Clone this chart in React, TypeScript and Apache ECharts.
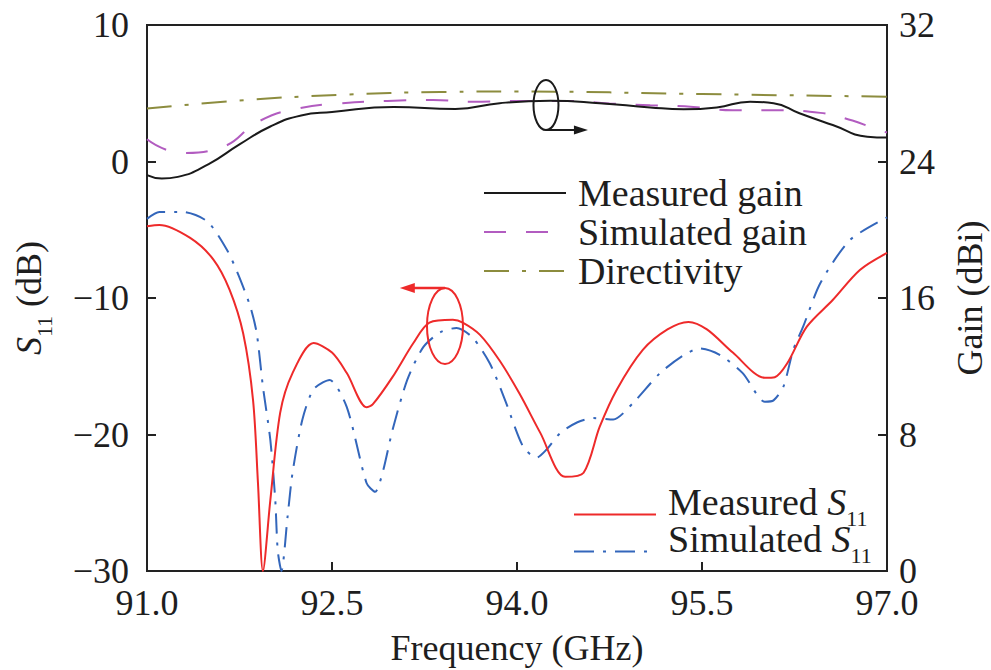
import React, { useEffect, useRef } from 'react';
import * as echarts from 'echarts';

const FONT = 'Liberation Serif, Times New Roman, serif';
const TXT = '#1e1e1e';

// Axis ranges / ticks
const xRange = [91, 97, 1.5];
const s11Range = [-30, 10, 10];
const gainRange = [0, 32, 8];

// Measured gain (dBi)
const fGainMeas = [91.0, 91.12, 91.25, 91.5, 91.75, 92.0, 92.25, 92.5, 93.0, 93.5, 93.86, 94.27, 94.67, 95.08, 95.35, 95.62, 95.89, 96.08, 96.29, 96.56, 96.84, 97.0];
const gainMeas = [23.2, 23.0, 23.1, 23.85, 25.0, 26.05, 26.7, 26.9, 27.2, 27.08, 27.42, 27.56, 27.42, 27.17, 27.06, 27.17, 27.5, 27.42, 26.83, 26.14, 25.45, 25.4];

// Simulated gain (dBi)
const fGainSim = [91.0, 91.29, 91.59, 91.92, 92.22, 92.56, 92.95, 93.32, 93.64, 94.0, 94.41, 94.75, 95.08, 95.43, 95.75, 96.11, 96.46, 96.72, 96.89, 97.0];
const gainSim = [25.3, 24.5, 24.8, 26.4, 27.1, 27.4, 27.55, 27.6, 27.5, 27.55, 27.55, 27.4, 27.3, 27.2, 27.0, 27.0, 26.85, 26.4, 25.95, 25.7];

// Directivity (dBi)
const fDir = [91.0, 91.8, 92.56, 93.38, 94.0, 95.5, 97.0];
const directivity = [27.1, 27.6, 27.9, 28.07, 28.1, 27.95, 27.8];

// Measured S11 (dB)
const fS11Meas = [91.0, 91.1, 91.35, 91.54, 91.67, 91.78, 91.86, 91.9, 91.94, 92.0, 92.08, 92.18, 92.35, 92.5, 92.62, 92.78, 92.83, 92.99, 93.16, 93.29, 93.48, 93.56, 93.7, 93.86, 94.02, 94.19, 94.39, 94.54, 94.67, 94.81, 95.02, 95.22, 95.39, 95.54, 95.75, 96.01, 96.09, 96.19, 96.35, 96.56, 96.78, 97.0];
const s11Meas = [-4.75, -4.65, -5.6, -7.2, -9.4, -12.6, -17.5, -23.6, -30, -24.8, -18.4, -15.5, -13.3, -14.0, -15.5, -18.0, -17.8, -15.8, -13.3, -11.8, -11.6, -11.8, -12.7, -14.6, -17.0, -19.9, -23.1, -22.8, -19.45, -16.7, -13.8, -12.3, -11.75, -12.3, -14.0, -15.85, -15.8, -14.8, -12.1, -10.15, -7.95, -6.7];

// Simulated S11 (dB)
const fS11Sim = [91.0, 91.1, 91.29, 91.49, 91.65, 91.75, 91.84, 91.89, 91.94, 92.0, 92.04, 92.06, 92.09, 92.14, 92.18, 92.26, 92.35, 92.48, 92.62, 92.78, 92.85, 92.91, 92.99, 93.11, 93.24, 93.38, 93.51, 93.64, 93.78, 93.9, 94.05, 94.16, 94.24, 94.35, 94.49, 94.62, 94.78, 94.94, 95.16, 95.35, 95.48, 95.65, 95.83, 96.01, 96.08, 96.16, 96.24, 96.32, 96.46, 96.7, 97.0];
const s11Sim = [-4.2, -3.7, -3.7, -4.4, -6.5, -8.5, -10.7, -12.6, -16.5, -20.4, -24.8, -28.5, -30, -26.0, -22.8, -18.9, -16.7, -16.0, -18.0, -23.55, -24.2, -22.8, -19.7, -16.0, -13.6, -12.5, -12.2, -12.9, -14.8, -17.4, -20.9, -21.7, -21.1, -19.9, -19.1, -18.8, -18.9, -17.7, -15.5, -14.2, -13.7, -14.2, -15.5, -17.6, -17.5, -16.5, -13.8, -12.1, -8.9, -5.75, -4.1];

const pairs = (xs: number[], ys: number[]) => xs.map((x, i) => [x, ys[i]]);
const fmtNum = (v: number) => (v < 0 ? '\u2212' + Math.abs(v) : String(v));

const richAxis = {
  n: { fontFamily: FONT, fontSize: 36, color: TXT, lineHeight: 36, padding: [0, 0, 8, 0], verticalAlign: 'bottom' },
  i: { fontFamily: FONT, fontSize: 36, color: TXT, fontStyle: 'italic', lineHeight: 36, padding: [0, 0, 8, 0], verticalAlign: 'bottom' },
  sub: { fontFamily: FONT, fontSize: 22, color: TXT, lineHeight: 22, verticalAlign: 'bottom' },
};
const richLegend = {
  n: { fontFamily: FONT, fontSize: 38, color: TXT, lineHeight: 29, padding: [0, 0, 8, 0], verticalAlign: 'bottom' },
  i: { fontFamily: FONT, fontSize: 38, color: TXT, fontStyle: 'italic', lineHeight: 29, padding: [0, 0, 8, 0], verticalAlign: 'bottom' },
  sub: { fontFamily: FONT, fontSize: 22, color: TXT, lineHeight: 22, verticalAlign: 'bottom' },
};

export default function App() {
  const ref = useRef<HTMLDivElement>(null);
  useEffect(() => {
    const chart = echarts.init(ref.current!, null, { renderer: 'svg' });
    const axisLine = { show: true, onZero: false, lineStyle: { color: '#222', width: 2 } };
    const axisTick = { show: true, inside: true, length: 9, lineStyle: { color: '#222', width: 2 } };
    const labelStyle = { fontFamily: FONT, fontSize: 36, color: TXT };
    const legendText = { fontFamily: FONT, fontSize: 38, color: TXT };
    const option: any = {
      animation: false,
      backgroundColor: '#fff',
      grid: {
        left: 147, right: 104, top: 25, bottom: 99, outerBoundsMode: 'none', containLabel: false,
        show: true, borderColor: '#222', borderWidth: 2, backgroundColor: 'transparent',
      },
      xAxis: {
        type: 'value', min: xRange[0], max: xRange[1], interval: xRange[2],
        axisLine, axisTick, splitLine: { show: false },
        axisLabel: { ...labelStyle, margin: 14, formatter: (v: number) => v.toFixed(1) },
        name: 'Frequency (GHz)', nameLocation: 'middle', nameGap: 59,
        nameTextStyle: { ...labelStyle },
      },
      yAxis: [
        {
          type: 'value', min: s11Range[0], max: s11Range[1], interval: s11Range[2], position: 'left',
          axisLine, axisTick, splitLine: { show: false },
          axisLabel: { ...labelStyle, margin: 18, formatter: fmtNum },
          name: '{i|S}{sub|11}{n| (dB)}', nameLocation: 'middle', nameGap: 92, nameRotate: 90,
          nameTextStyle: { rich: richAxis },
        },
        {
          type: 'value', min: gainRange[0], max: gainRange[1], interval: gainRange[2], position: 'right',
          axisLine, axisTick, splitLine: { show: false },
          axisLabel: { ...labelStyle, margin: 12 },
          name: 'Gain (dBi)', nameLocation: 'middle', nameGap: 65, nameRotate: 90,
          nameTextStyle: { ...labelStyle },
        },
      ],
      legend: [
        {
          data: ['Measured gain', 'Simulated gain', 'Directivity'],
          orient: 'vertical', left: 483, top: 174, padding: 0, itemWidth: 82, itemHeight: 12, itemGap: 1,
          itemStyle: { opacity: 0 },
          textStyle: { ...legendText, lineHeight: 38, padding: [0, 0, 0, 7] },
          selectedMode: false,
        },
        {
          data: ['Measured S11', 'Simulated S11'],
          orient: 'vertical', left: 573, top: 483, padding: 0, itemWidth: 82, itemHeight: 12, itemGap: -9,
          itemStyle: { opacity: 0 },
          formatter: (name: string) => (name === 'Measured S11' ? '{n|Measured }{i|S}{sub|11}' : '{n|Simulated }{i|S}{sub|11}'),
          textStyle: { ...legendText, padding: [0, 0, 0, 7], rich: richLegend },
          selectedMode: false,
        },
      ],
      series: [
        {
          name: 'Directivity', type: 'line', yAxisIndex: 1, symbol: 'none', smooth: 0.5,
          data: pairs(fDir, directivity),
          lineStyle: { color: '#8c8c3e', width: 2, type: [25, 13, 4, 13] },
          itemStyle: { color: '#8c8c3e' },
        },
        {
          name: 'Simulated gain', type: 'line', yAxisIndex: 1, symbol: 'none', smooth: 0.5,
          data: pairs(fGainSim, gainSim),
          lineStyle: { color: '#b25cc0', width: 2, type: [22, 20] },
          itemStyle: { color: '#b25cc0' },
        },
        {
          name: 'Measured gain', type: 'line', yAxisIndex: 1, symbol: 'none', smooth: 0.5,
          data: pairs(fGainMeas, gainMeas),
          lineStyle: { color: '#1a1a1a', width: 2 },
          itemStyle: { color: '#1a1a1a' },
        },
        {
          name: 'Simulated S11', type: 'line', yAxisIndex: 0, symbol: 'none', smooth: 0.25,
          data: pairs(fS11Sim, s11Sim),
          lineStyle: { color: '#3366bb', width: 2, type: [20, 9, 3, 9] },
          itemStyle: { color: '#3366bb' },
        },
        {
          name: 'Measured S11', type: 'line', yAxisIndex: 0, symbol: 'none', smooth: 0.3,
          data: pairs(fS11Meas, s11Meas),
          lineStyle: { color: '#ee2a2a', width: 2 },
          itemStyle: { color: '#ee2a2a' },
        },
      ],
    };
    chart.setOption(option);

    // annotation ellipses + arrows, anchored to data coordinates
    const toPx = (f: number, v: number, yi: number) =>
      chart.convertToPixel({ xAxisIndex: 0, yAxisIndex: yi } as any, [f, v]) as number[];
    const g = toPx(94.235, 27.31, 1);
    const gTip = toPx(94.575, 0, 1);
    const r = toPx(93.416, -12.05, 0);
    const rTip = toPx(93.05, 0, 0);
    const gry = 25, grx = 12.5, rrx = 18, rry = 38;
    const gy = g[1] + gry;
    const ry = r[1] - rry;
    chart.setOption({
      graphic: [
        { type: 'ellipse', shape: { cx: g[0], cy: g[1], rx: grx, ry: gry }, style: { fill: 'none', stroke: '#1a1a1a', lineWidth: 2 }, z: 100 },
        { type: 'line', shape: { x1: g[0], y1: gy, x2: gTip[0] - 10, y2: gy }, style: { stroke: '#1a1a1a', lineWidth: 2 }, z: 100 },
        { type: 'polygon', shape: { points: [[gTip[0], gy], [gTip[0] - 14, gy - 4.5], [gTip[0] - 14, gy + 4.5]] }, style: { fill: '#1a1a1a' }, z: 100 },
        { type: 'ellipse', shape: { cx: r[0], cy: r[1], rx: rrx, ry: rry }, style: { fill: 'none', stroke: '#ee2a2a', lineWidth: 2 }, z: 100 },
        { type: 'line', shape: { x1: r[0], y1: ry, x2: rTip[0] + 10, y2: ry }, style: { stroke: '#ee2a2a', lineWidth: 2.5 }, z: 100 },
        { type: 'polygon', shape: { points: [[rTip[0], ry], [rTip[0] + 15, ry - 5], [rTip[0] + 15, ry + 5]] }, style: { fill: '#ee2a2a' }, z: 100 },
      ],
    });
    return () => chart.dispose();
  }, []);
  return <div ref={ref} style={{ position: 'absolute', left: 0, top: 0, width: 991, height: 670 }} />;
}
